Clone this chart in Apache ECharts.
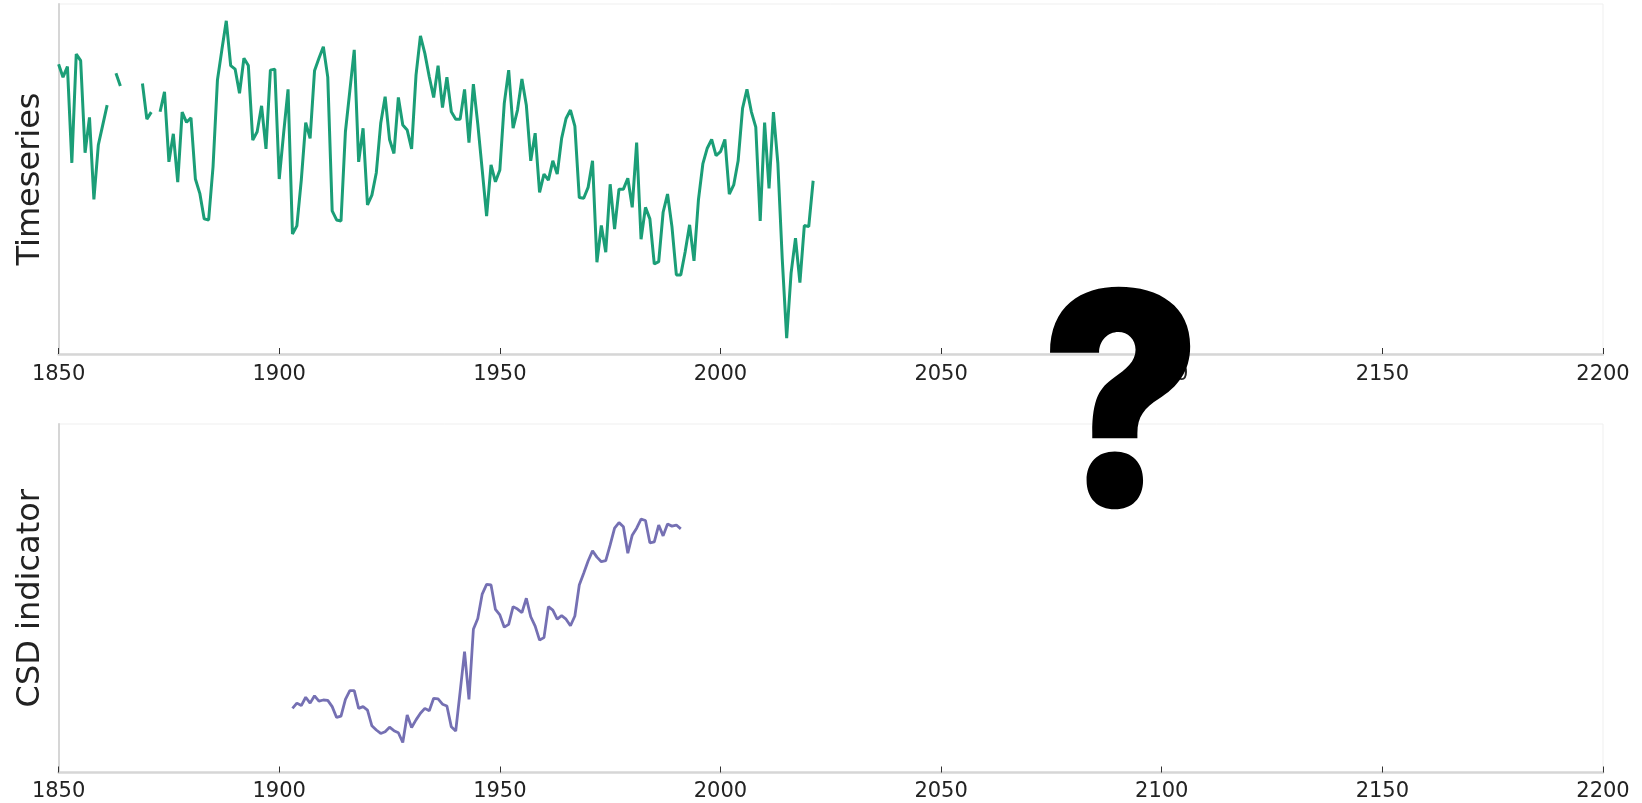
<!DOCTYPE html>
<html>
<head>
<meta charset="utf-8">
<title>Timeseries and CSD indicator</title>
<script src="https://cdn.jsdelivr.net/npm/echarts@6/dist/echarts.min.js"></script>
<style>
  html, body { margin: 0; padding: 0; background: #ffffff; }
  #chart { width: 1642px; height: 803px; }
</style>
</head>
<body>
<div id="chart"></div>
<script>
// Annual observations (normalised index, null = missing year)
const tsStartYear = 1850;
const tsValues = [
  0.828, 0.791, 0.821, 0.546, 0.857, 0.838, 0.575, 0.676, 0.442, 0.597, // 1850-1859
  0.654, 0.711, null, 0.802, 0.766, null, null, null, null, 0.773,      // 1860-1869
  0.671, 0.691, null, 0.692, 0.749, 0.549, 0.629, 0.491, 0.691, 0.662,  // 1870-1879
  0.675, 0.500, 0.459, 0.386, 0.383, 0.535, 0.783, 0.869, 0.952, 0.824, // 1880-1889
  0.814, 0.745, 0.845, 0.824, 0.611, 0.635, 0.709, 0.586, 0.811, 0.814, // 1890-1899
  0.500, 0.631, 0.756, 0.343, 0.366, 0.497, 0.661, 0.616, 0.809, 0.845, // 1900-1909
  0.878, 0.791, 0.409, 0.383, 0.380, 0.635, 0.752, 0.869, 0.549, 0.645, // 1910-1919
  0.426, 0.454, 0.518, 0.659, 0.735, 0.613, 0.573, 0.733, 0.654, 0.640, // 1920-1929
  0.586, 0.797, 0.909, 0.859, 0.792, 0.733, 0.824, 0.704, 0.791, 0.692, // 1930-1939
  0.671, 0.671, 0.756, 0.604, 0.771, 0.657, 0.526, 0.394, 0.540, 0.492, // 1940-1949
  0.526, 0.716, 0.811, 0.645, 0.697, 0.786, 0.711, 0.552, 0.631, 0.462, // 1950-1959
  0.514, 0.497, 0.552, 0.514, 0.616, 0.673, 0.697, 0.651, 0.447, 0.445, // 1960-1969
  0.476, 0.552, 0.262, 0.367, 0.291, 0.485, 0.357, 0.471, 0.471, 0.502, // 1970-1979
  0.419, 0.604, 0.328, 0.419, 0.386, 0.257, 0.264, 0.405, 0.457, 0.364, // 1980-1989
  0.226, 0.226, 0.292, 0.369, 0.266, 0.440, 0.543, 0.588, 0.613, 0.567, // 1990-1999
  0.578, 0.613, 0.457, 0.483, 0.552, 0.702, 0.756, 0.692, 0.648, 0.380, // 2000-2009
  0.661, 0.473, 0.691, 0.545, 0.271, 0.045, 0.231, 0.331, 0.204, 0.367, // 2010-2019
  0.364, 0.495                                                          // 2020-2021
];

// Critical-slowing-down indicator (rolling window estimate)
const csdStartYear = 1903;
const csdValues = [
  0.184, 0.199, 0.192, 0.216, 0.199, 0.220, 0.205,                      // 1903-1909
  0.208, 0.207, 0.189, 0.158, 0.162, 0.210, 0.235, 0.235, 0.184, 0.189, // 1910-1919
  0.179, 0.134, 0.122, 0.112, 0.117, 0.130, 0.120, 0.114, 0.086, 0.165, // 1920-1929
  0.129, 0.151, 0.170, 0.184, 0.177, 0.213, 0.211, 0.196, 0.191, 0.131, // 1930-1939
  0.119, 0.232, 0.347, 0.210, 0.411, 0.442, 0.512, 0.540, 0.538, 0.468, // 1940-1949
  0.452, 0.417, 0.425, 0.476, 0.469, 0.459, 0.500, 0.447, 0.420, 0.380, // 1950-1959
  0.387, 0.476, 0.466, 0.440, 0.450, 0.440, 0.421, 0.449, 0.538, 0.572, // 1960-1969
  0.607, 0.636, 0.618, 0.605, 0.608, 0.653, 0.701, 0.717, 0.705, 0.629, // 1970-1979
  0.681, 0.701, 0.727, 0.723, 0.659, 0.662, 0.710, 0.679, 0.713, 0.707, // 1980-1989
  0.710, 0.699                                                          // 1990-1991
];

// X-axis extent and tick step (years)
const xMin = 1850;
const xMax = 2200;
const xStep = 50;

const panelTitles = ['Timeseries', 'CSD indicator'];

function toPairs(startYear, values) {
  return values.map((v, i) => [startYear + i, v === null ? '-' : v]);
}

const chart = echarts.init(document.getElementById('chart'), null, { renderer: 'canvas' });

const textColor = '#222222';
const axisGrey = '#d6d6d6';
const fontFamily = '"DejaVu Sans", sans-serif';

function makeX(gridIndex, labelMargin) {
  return {
    type: 'value',
    gridIndex: gridIndex,
    min: xMin,
    max: xMax,
    interval: xStep,
    axisLine: { show: true, lineStyle: { color: axisGrey, width: 2.5 } },
    axisTick: { show: true, inside: true, length: 6, lineStyle: { color: '#333333', width: 1 } },
    axisLabel: {
      show: true,
      fontSize: 21,
      color: textColor,
      fontFamily: fontFamily,
      margin: labelMargin,
      formatter: (v) => String(v)
    },
    splitLine: { show: false }
  };
}

function makeY(gridIndex, title) {
  return {
    type: 'value',
    gridIndex: gridIndex,
    min: 0,
    max: 1,
    name: title,
    nameLocation: 'middle',
    nameRotate: 90,
    nameGap: 12,
    nameTextStyle: { fontSize: 32, color: textColor, fontFamily: fontFamily },
    axisLine: { show: true, lineStyle: { color: axisGrey, width: 2 } },
    axisTick: { show: false },
    axisLabel: { show: false },
    splitLine: { show: false }
  };
}

chart.setOption({
  animation: false,
  backgroundColor: '#ffffff',
  grid: [
    { left: 58.6, right: 39, top: 4, height: 350, show: true, borderColor: '#efefef', borderWidth: 1 },
    { left: 58.6, right: 39, top: 424, height: 348.5, show: true, borderColor: '#efefef', borderWidth: 1 }
  ],
  xAxis: [makeX(0, 10.5), makeX(1, 8.5)],
  yAxis: [makeY(0, panelTitles[0]), makeY(1, panelTitles[1])],
  series: [
    {
      type: 'line',
      xAxisIndex: 0,
      yAxisIndex: 0,
      data: toPairs(tsStartYear, tsValues),
      showSymbol: false,
      connectNulls: false,
      lineStyle: { color: '#1b9e77', width: 3 },
      itemStyle: { color: '#1b9e77' }
    },
    {
      type: 'line',
      xAxisIndex: 1,
      yAxisIndex: 1,
      data: toPairs(csdStartYear, csdValues),
      showSymbol: false,
      lineStyle: { color: '#7570b3', width: 2.8 },
      itemStyle: { color: '#7570b3' }
    }
  ],
  graphic: [
    {
      type: 'text',
      z: 100,
      zlevel: 1,
      left: 1040,
      top: 268,
      scaleX: 0.91,
      style: {
        text: '?',
        fontSize: 297,
        fontWeight: 900,
        fontFamily: 'Inter, "Open Sans", sans-serif',
        fill: '#000000'
      }
    }
  ]
});
</script>
</body>
</html>
